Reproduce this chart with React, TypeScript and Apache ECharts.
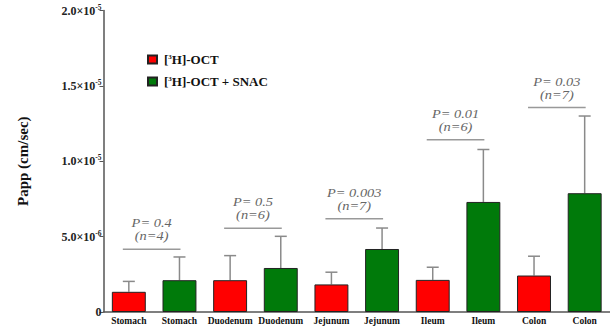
import React, { useEffect, useRef } from "react";
import * as echarts from "echarts";

const categories = ["Stomach", "Stomach", "Duodenum", "Duodenum", "Jejunum", "Jejunum", "Ileum", "Ileum", "Colon", "Colon"];
const octMeans = [1.34e-6, 2.11e-6, 1.83e-6, 2.13e-6, 2.42e-6];
const octSD = [0.69e-6, 1.63e-6, 0.81e-6, 0.84e-6, 1.28e-6];
const snacMeans = [2.11e-6, 2.92e-6, 4.18e-6, 7.3e-6, 7.88e-6];
const snacSD = [1.54e-6, 2.1e-6, 1.39e-6, 3.48e-6, 5.12e-6];
const pValues = ["0.4", "0.5", "0.003", "0.01", "0.03"];
const nValues = [4, 6, 7, 6, 7];
const bracketLevels = [4.16e-6, 5.55e-6, 6.19e-6, 11.43e-6, 13.57e-6];

const SERIF = "'Liberation Serif', 'Times New Roman', serif";

function fmtY(v: number): string {
  if (v === 0) return "{m|0}";
  const exp = Math.floor(Math.log10(v) + 1e-9);
  const mant = (v / Math.pow(10, exp)).toFixed(1);
  return `{m|${mant}×10}{s|${exp}}`;
}

export default function App() {
  const ref = useRef<HTMLDivElement>(null);
  useEffect(() => {
    if (!ref.current) return;
    const chart = echarts.init(ref.current, null, { renderer: "svg" });
    const red: (number | null)[] = [];
    const green: (number | null)[] = [];
    const errData: number[][] = [];
    octMeans.forEach((m, i) => {
      red.push(m, null);
      green.push(null, snacMeans[i]);
      errData.push([2 * i, m, m + octSD[i]]);
      errData.push([2 * i + 1, snacMeans[i], snacMeans[i] + snacSD[i]]);
    });
    const annData = bracketLevels.map((lv, i) => [i, lv]);

    chart.setOption({
      animation: false,
      grid: { left: 103.5, top: 10.5, width: 515, height: 302.5, containLabel: false },
      legend: {
        orient: "vertical",
        left: 142,
        top: 48,
        icon: "rect",
        itemWidth: 9,
        itemHeight: 8,
        itemGap: 9,
        data: ["[3H]-OCT", "[3H]-OCT + SNAC"],
        formatter: (name: string) => name.replace("[3H]", "[{s|3}H]"),
        textStyle: {
          fontFamily: SERIF,
          fontWeight: "bold",
          fontSize: 13,
          color: "#111",
          padding: [0, 0, 0, 2],
          rich: {
            s: { fontSize: 7, fontFamily: SERIF, fontWeight: "bold", verticalAlign: "top", color: "#111" },
          },
        },
      },
      xAxis: {
        type: "category",
        data: categories,
        axisLine: { lineStyle: { color: "#555", width: 1.5 } },
        axisTick: { alignWithLabel: true, length: 3, lineStyle: { color: "#555" } },
        axisLabel: {
          interval: 0,
          margin: 4,
          fontFamily: SERIF,
          fontWeight: "bold",
          fontSize: 9.5,
          color: "#111",
        },
      },
      yAxis: {
        type: "value",
        min: 0,
        max: 2e-5,
        interval: 5e-6,
        name: "Papp (cm/sec)",
        nameLocation: "middle",
        nameRotate: 90,
        nameGap: 73,
        nameTextStyle: { fontFamily: SERIF, fontWeight: "bold", fontSize: 15, color: "#111" },
        splitLine: { show: false },
        axisLine: { show: true, lineStyle: { color: "#555", width: 1.5 } },
        axisTick: { show: true, length: 4, lineStyle: { color: "#555" } },
        axisLabel: {
          margin: 2,
          formatter: fmtY,
          rich: {
            m: { fontFamily: SERIF, fontWeight: "bold", fontSize: 12, color: "#222", lineHeight: 15 },
            s: { fontFamily: SERIF, fontWeight: "bold", fontSize: 7.5, color: "#222", verticalAlign: "top", lineHeight: 15 },
          },
        },
      },
      series: [
        {
          name: "[3H]-OCT",
          type: "bar",
          data: red,
          barWidth: "67%",
          barGap: "-100%",
          itemStyle: { color: "#ff0000", borderColor: "#222", borderWidth: 1 },
          z: 3,
        },
        {
          name: "[3H]-OCT + SNAC",
          type: "bar",
          data: green,
          barWidth: "67%",
          barGap: "-100%",
          itemStyle: { color: "#007a0a", borderColor: "#222", borderWidth: 1 },
          z: 3,
        },
        {
          type: "custom",
          name: "err",
          data: errData,
          z: 2,
          clip: false,
          renderItem: (params: any, api: any) => {
            const x = api.value(0);
            const p1 = api.coord([x, api.value(1)]);
            const p2 = api.coord([x, api.value(2)]);
            const style = { stroke: "#8a8a8a", lineWidth: 1.5 };
            return {
              type: "group",
              children: [
                { type: "line", shape: { x1: p1[0], y1: p1[1], x2: p2[0], y2: p2[1] }, style },
                { type: "line", shape: { x1: p2[0] - 6, y1: p2[1], x2: p2[0] + 6, y2: p2[1] }, style },
              ],
            };
          },
        },
        {
          type: "custom",
          name: "ann",
          data: annData,
          z: 4,
          clip: false,
          renderItem: (params: any, api: any) => {
            const i = api.value(0);
            const lv = api.value(1);
            const a = api.coord([2 * i, lv]);
            const b = api.coord([2 * i + 1, lv]);
            const x1 = a[0] - 6;
            const x2 = b[0] + 1;
            const cx = (x1 + x2) / 2;
            const y = a[1];
            const tstyle = {
              fill: "#666",
              font: `italic 12px ${SERIF}`,
              textAlign: "center",
              textVerticalAlign: "middle",
              x: 0,
              y: 0,
            };
            return {
              type: "group",
              children: [
                { type: "line", shape: { x1, y1: y, x2, y2: y }, style: { stroke: "#999", lineWidth: 1.5 } },
                { type: "text", x: cx, y: y - 26, scaleX: 1.2, style: { ...tstyle, text: `P= ${pValues[i]}` } },
                { type: "text", x: cx, y: y - 13, scaleX: 1.2, style: { ...tstyle, text: `(n=${nValues[i]})` } },
              ],
            };
          },
        },
      ],
    });
    return () => chart.dispose();
  }, []);
  return <div ref={ref} style={{ position: "absolute", left: 0, top: 0, width: 610, height: 326 }} />;
}
